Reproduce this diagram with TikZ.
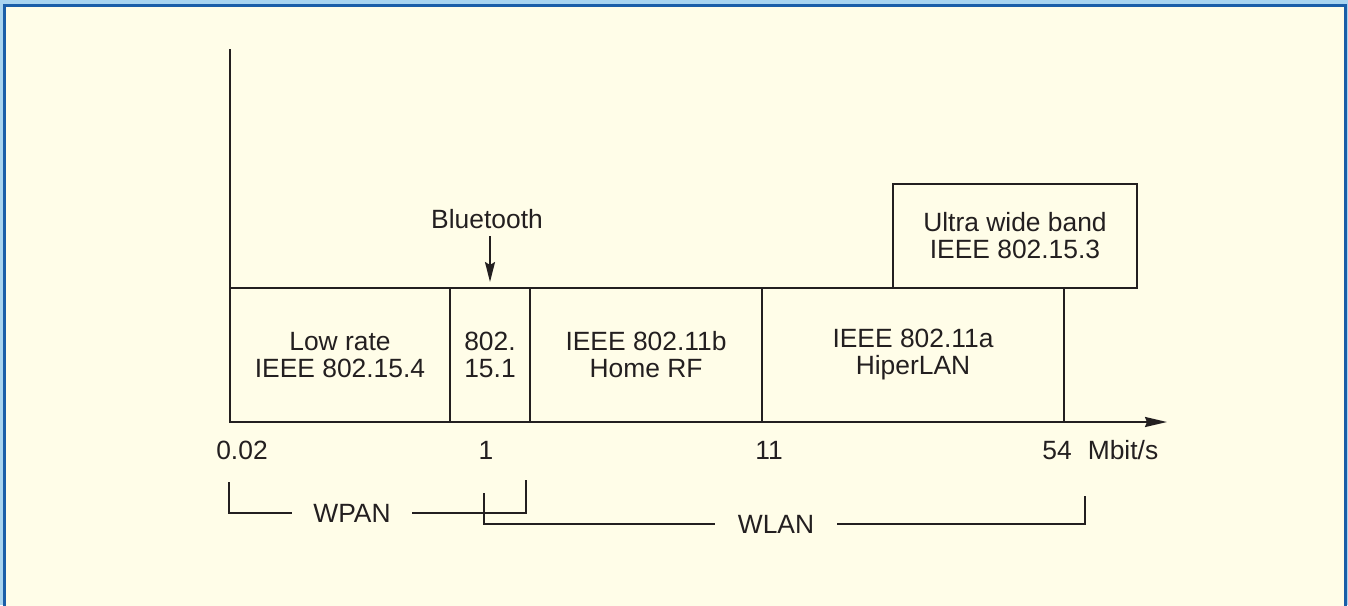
\documentclass[tikz,border=0pt]{standalone}
\usepackage{fontspec}
\setmainfont{Liberation Sans}
\usetikzlibrary{positioning,calc,arrows.meta}
\definecolor{paper}{RGB}{255,253,232}
\definecolor{frameblue}{RGB}{26,94,168}
\definecolor{skyblue}{RGB}{168,212,240}
\definecolor{ink}{RGB}{35,31,32}

\begin{document}
\begin{tikzpicture}[x=0.5pt, y=-0.5pt, color=ink, line width=1pt,
  every node/.style={font=\fontsize{13.2}{13.5}\selectfont, align=center},
  band/.style={draw, rectangle, inner sep=0pt, minimum height=67pt},
  ticklabel/.style={anchor=base},
  span/.style={inner sep=0pt}]
\useasboundingbox (0,0) rectangle (1348,605);
% Frame
\fill[skyblue] (0,0) rectangle (1348,605);
\filldraw[fill=paper, draw=frameblue, line width=1.5pt] (4.7,5.5) rectangle (1345.8,640);

% Axes
\coordinate (origin) at (230,422);
\coordinate (ytop) at (230,49);
\coordinate (xend) at (1167,422);
\draw (ytop) -- (origin);
\draw[-{Stealth[length=11pt, width=5pt, inset=1pt]}] (origin) -- (xend);

% Bands
\node (lowrate) [band, minimum width=110pt] at (340,355) {Low rate\\IEEE 802.15.4};
\node (bt) [band, minimum width=40pt] at (490,355) {802.\\15.1};
\node (b11) [band, minimum width=116pt] at (646,355) {IEEE 802.11b\\Home RF};
\node (a11) [band, minimum width=151pt] at (913,355) {IEEE 802.11a\\HiperLAN};
\node (uwb) [band, minimum width=122pt, minimum height=52pt] at (1015,236) {Ultra wide band\\IEEE 802.15.3};

% Bluetooth pointer
\node (bluetooth) at (487,219) {Bluetooth};
\draw[-{Stealth[length=10pt, width=5pt, inset=1.5pt]}, shorten >=2.5pt] (bluetooth.south -| bt.north) -- (bt.north);

% Rate labels
\node (t002) [ticklabel] at (242,459) {0.02};
\node (t1) [ticklabel] at (486,459) {1};
\node (t11) [ticklabel] at (769,459) {11};
\node (t54) [ticklabel] at (1057,459) {54};
\node (unit) [ticklabel] at (1123,459) {Mbit/s};

% Network classes
\node (wpan) [span, minimum width=59pt] at (352,513) {WPAN};
\node (wlan) [span, minimum width=60pt] at (776,524) {WLAN};
\coordinate (wpanL) at (229,482);
\coordinate (wpanR) at (526,480);
\coordinate (wlanL) at (484,493);
\coordinate (wlanR) at (1085,496);
\draw[line width=0.8pt] (wpanL) |- (wpan.west);
\draw[line width=0.8pt] (wpan.east) -| (wpanR);
\draw[line width=0.8pt] (wlanL) |- (wlan.west);
\draw[line width=0.8pt] (wlan.east) -| (wlanR);
\end{tikzpicture}
\end{document}
